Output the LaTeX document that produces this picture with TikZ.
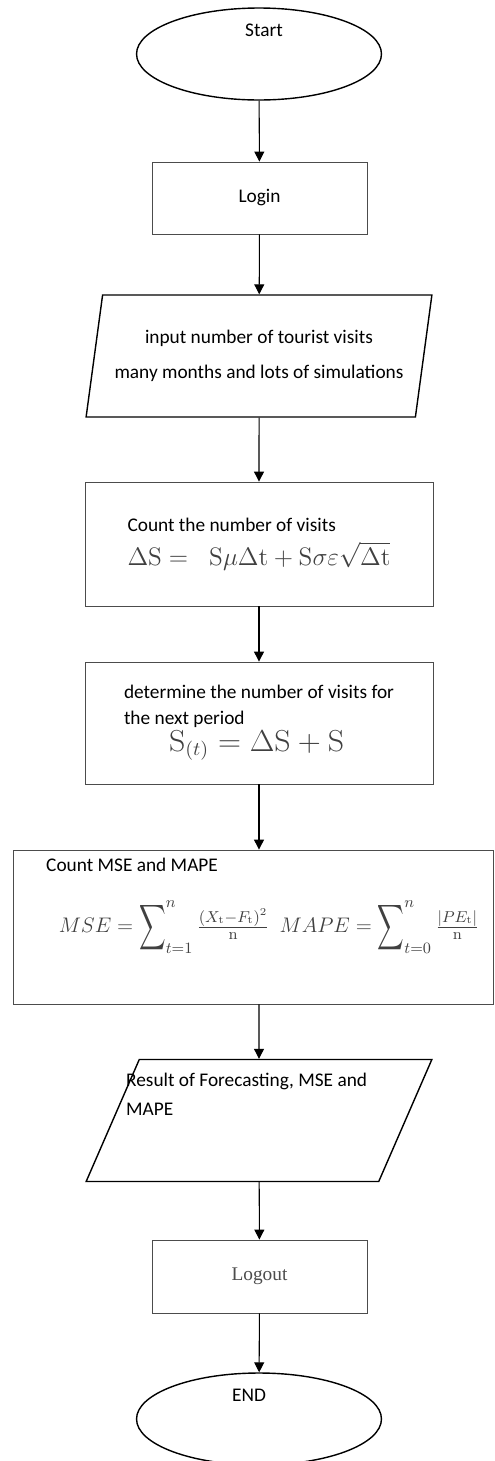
\documentclass[tikz,border=0pt]{standalone}
\usepackage[no-math]{fontspec}
\usepackage{graphicx}
\setmainfont{Carlito}
\newfontfamily\logoutfont{Liberation Serif}
\usetikzlibrary{shapes.geometric,arrows.meta}
\newcommand\tallsum{\mathop{\vcenter{\hbox{\scalebox{1.05}[1.8]{$\displaystyle\sum$}}}}\nolimits}

\begin{document}
\begin{tikzpicture}[x=0.02cm,y=-0.02cm,
  font=\fontsize{11}{13}\selectfont,
  term/.style={draw, ellipse, line width=0.8pt, minimum width=4.9cm, minimum height=1.84cm},
  proc/.style={draw=black!70, rectangle, line width=0.5pt},
  io/.style={draw, trapezium, trapezium left angle=74.4, trapezium right angle=105.6,
    trapezium stretches=true, line width=0.8pt, minimum width=6.92cm, minimum height=2.44cm, inner sep=1pt},
  flow/.style={-{Triangle[length=2mm,width=2mm]}, line width=0.6pt},
  eq/.style={text=black!75}]
\useasboundingbox (0,0) rectangle (494,1461);
% terminals
\node[term] (start) at (259,54) {};
\node (starttxt) at (264,30) {Start};
\node[term] (end) at (259,1419) {};
\node (endtxt) at (249,1395) {END};
% steps
\node[proc, minimum width=4.3cm, minimum height=1.44cm] (login) at (259.5,198) {Login};
\node[io, align=center, font=\fontsize{11}{20}\selectfont] (input) at (259,356)
  {input number of tourist visits\\many months and lots of simulations};
\node[proc, minimum width=6.96cm, minimum height=2.48cm, align=left] (count) at (259,544)
  {Count the number of visits\\[5pt]
   {\fontsize{14}{16}\selectfont\color{black!75}$\Delta\mathrm{S} =\;\; \mathrm{S}\mu\Delta\mathrm{t} + \mathrm{S}\sigma\varepsilon\sqrt{\Delta\mathrm{t}}$}};
\node[proc, minimum width=6.96cm, minimum height=2.44cm, align=left, font=\fontsize{11}{14.5}\selectfont] (next) at (259,723)
  {determine the number of visits for\\the next period\\[1pt]
   \hspace*{0.9cm}{\fontsize{16}{17}\selectfont\color{black!75}\scalebox{1.05}[1]{$\mathrm{S}_{(t)} = \Delta\mathrm{S} + \mathrm{S}$}}};
\node[proc, minimum width=9.6cm, minimum height=3.08cm] (error) at (253,927) {};
\node[anchor=west] (errtxt) at (40,865) {Count MSE and MAPE};
\node[eq, font=\fontsize{13}{16}\selectfont] (errform) at (269,927)
  {$MSE = \tallsum_{t=1}^{n}\frac{(X_{\mathrm{t}}-F_{\mathrm{t}})^2}{\mathrm{n}}\ \ MAPE = \tallsum_{t=0}^{n}\frac{|PE_{\mathrm{t}}|}{\mathrm{n}}$};
\node[io] (result) at (259,1120.5) {\phantom{M}};
\node[anchor=north west, align=left, font=\fontsize{11}{16.4}\selectfont] (restxt) at (120,1067)
  {Result of Forecasting, MSE and\\MAPE};
\node[proc, minimum width=4.3cm, minimum height=1.46cm, text=black!70, font=\logoutfont\fontsize{11}{13}\selectfont] (logout) at (259.5,1276.5) {Logout};
% connectors
\draw[flow] (start) -- (login);
\draw[flow] (login) -- (input);
\draw[flow] (input) -- (count);
\draw[flow] (count) -- (next);
\draw[flow] (next) -- (error.north -| next);
\draw[flow] (error.south -| next) -- (result);
\draw[flow] (result) -- (logout);
\draw[flow] (logout) -- (end);
\end{tikzpicture}
\end{document}
